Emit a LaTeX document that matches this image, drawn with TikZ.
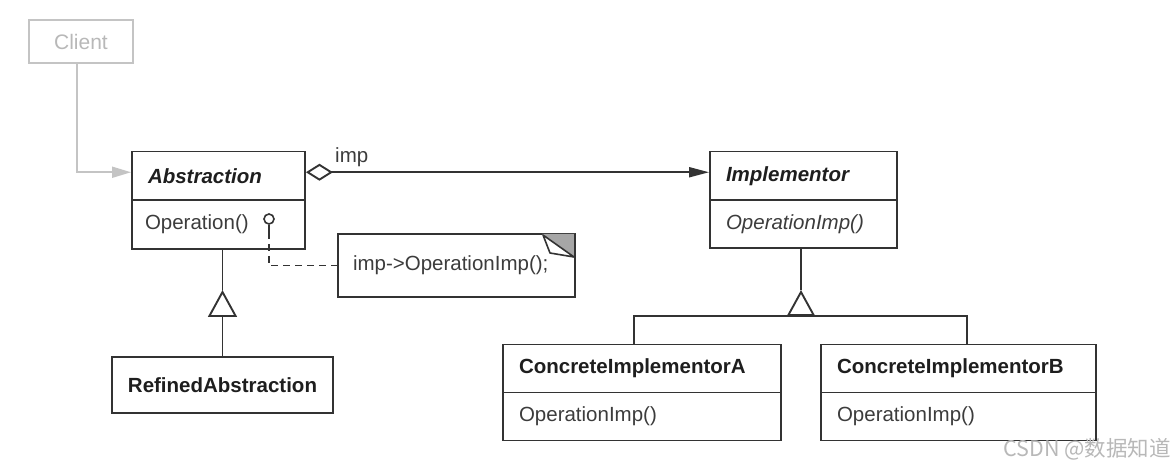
\documentclass[tikz,border=0pt]{standalone}
\usepackage{fontspec}
\setmainfont{Liberation Sans}
\newfontfamily\cjkfont{Noto Sans CJK SC}
\usetikzlibrary{arrows.meta}
\definecolor{ln}{HTML}{333333}
\definecolor{tx}{HTML}{3C3C3C}
\definecolor{bt}{HTML}{1E1E1E}
\definecolor{cl}{HTML}{C4C4C4}
\definecolor{clt}{HTML}{B8B8B8}
\definecolor{ear}{HTML}{A6A6A6}
\definecolor{wm}{HTML}{B8B8B8}
\begin{document}
\begin{tikzpicture}[x=1pt,y=-1pt,
  every node/.style={font=\fontsize{20.5}{24}\selectfont},
  cbox/.style={draw=ln, line width=1.9pt, rectangle, inner ysep=0pt, inner xsep=16pt, align=left, text=tx},
  conn/.style={draw=ln, line width=1.9pt},
  dashconn/.style={draw=ln, line width=1.7pt, dash pattern=on 7pt off 5pt}
]
\useasboundingbox (0,0) rectangle (1176,470);
% Client
\node[draw=cl, line width=1.8pt, minimum width=104pt, minimum height=43pt, inner sep=0pt, text=clt, font=\fontsize{21}{24}\selectfont] (client) at (81,41.5) {Client};
% Abstraction
\node[cbox, text width=141pt, minimum height=48.5pt, text=bt] (abs) at (218.5,175.75) {\textbf{\textit{Abstraction}}};
\node[cbox, minimum height=49pt, inner xsep=13pt, text width=147pt] (absop) at (218.5,224.5) {Operation()};
% Implementor
\node[cbox, text width=155pt, minimum height=48.5pt, text=bt] (impl) at (803.5,175.75) {\textbf{\textit{Implementor}}};
\node[cbox, text width=155pt, minimum height=48pt] (implop) at (803.5,224) {\textit{OperationImp()}};
% Concrete A
\node[cbox, text width=246pt, minimum height=48pt, text=bt] (ca) at (642,368.5) {\textbf{ConcreteImplementorA}};
\node[cbox, text width=246pt, minimum height=48pt] (caop) at (642,416.5) {OperationImp()};
% Concrete B
\node[cbox, text width=243pt, minimum height=48pt, text=bt] (cb) at (958.5,368.5) {\textbf{ConcreteImplementorB}};
\node[cbox, text width=243pt, minimum height=48pt] (cbop) at (958.5,416.5) {OperationImp()};
% Refined
\node[draw=ln, line width=1.9pt, minimum width=221pt, minimum height=56pt, inner sep=0pt, text=bt] (refined) at (222.5,385) {\textbf{RefinedAbstraction}};
% Note
\node[cbox, text width=207pt, inner xsep=15pt, minimum height=63pt] (note) at (456.5,265.5) {imp->OperationImp();};
\fill[ear] (542,234) -- (575,234) -- (575,257) -- cycle;
\draw[ln, line width=1.6pt, fill=white, line join=round] (543,235) -- (550,253) -- (574,257) -- cycle;
\draw[ln, line width=1.9pt] (575,234) -- (575,257);
% Lollipop
\node[circle, draw=ln, line width=1.6pt, minimum size=10pt, inner sep=0pt] (lol) at (269,219) {};
\draw[conn, line width=1.7pt] (lol.south) -- ++(0,7) coordinate (ds);
\draw[dashconn] (ds) |- (note.west);
% Client connector
\draw[draw=cl, line width=1.8pt, -{Triangle[length=19pt,width=11pt]}] ([xshift=-4pt]client.south) |- ([yshift=3.5pt]abs.west);
% Aggregation
\draw[conn, {Diamond[open, fill=white, length=27pt, width=17pt]}-{Triangle[length=20pt, width=10pt]}] ([yshift=3.5pt]abs.east) -- ([yshift=3.5pt]impl.west);
\node[anchor=base west, inner sep=0pt, text=tx] (implbl) at (335,163) {imp};
% Inheritance left
\coordinate (ta) at (222.5,290);
\draw[conn, -{Triangle[open, length=27pt, width=29pt]}] (refined.north) -- (ta);
\draw[conn] (ta) -- (ta |- absop.south);
% Inheritance right
\coordinate (tb) at (801,290);
\coordinate (bar) at (801,316);
\draw[conn] (tb) -- (tb |- implop.south);
\draw[conn, -{Triangle[open, length=26pt, width=28pt]}] (bar) -- (tb);
\draw[conn] ([xshift=-8pt]ca.north) |- (bar) -| ([xshift=8.5pt]cb.north);
% Watermark
\node[anchor=east, inner sep=0pt, text=wm, font=\cjkfont\fontsize{21.5}{24}\selectfont] (wmk) at (1171,449) {CSDN @数据知道};
\end{tikzpicture}
\end{document}
